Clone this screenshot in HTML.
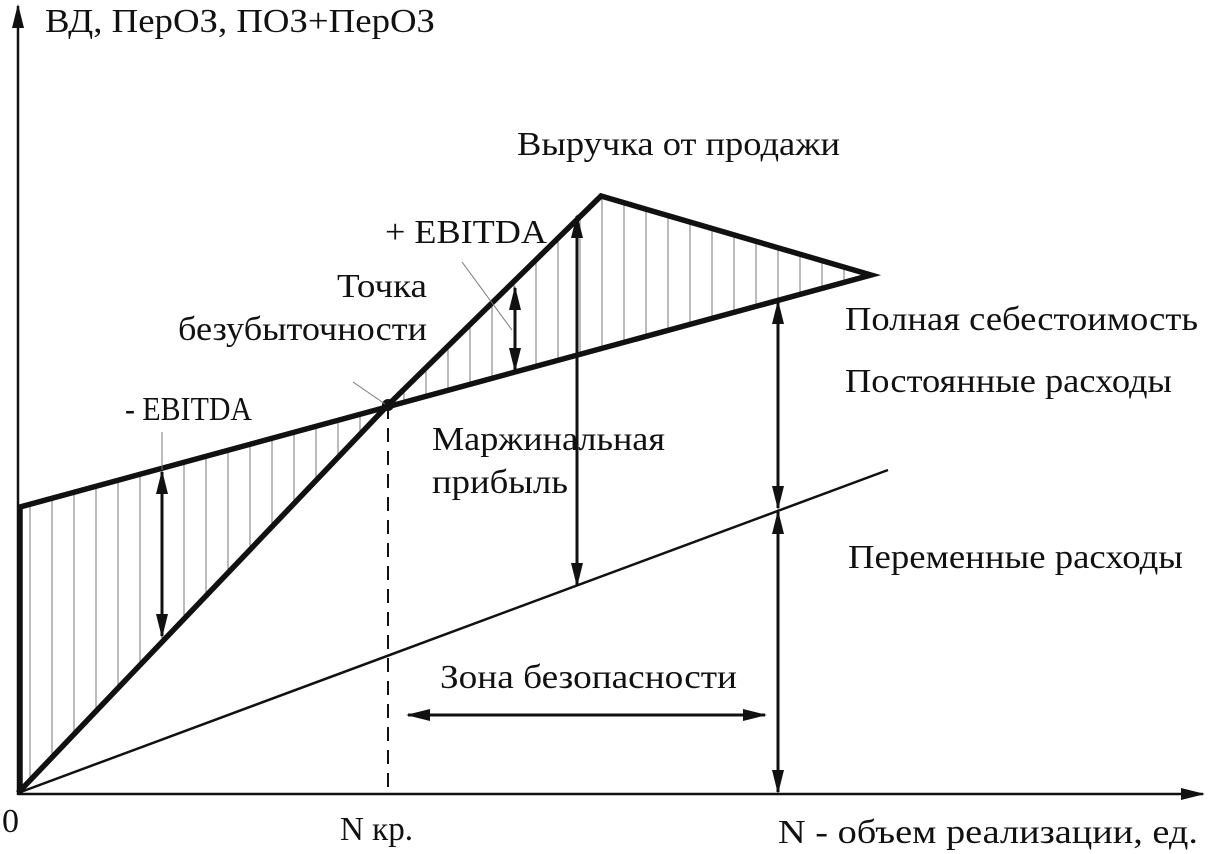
<!DOCTYPE html>
<html><head><meta charset="utf-8"><style>
html,body{margin:0;padding:0;background:#fff;}
svg{display:block;}
text{font-family:"Liberation Serif",serif;font-size:34px;fill:#111;}
</style></head><body>
<svg id="s" width="1209" height="854" viewBox="0 0 1209 854" xmlns="http://www.w3.org/2000/svg">
<defs>
<marker id="ah" markerWidth="24" markerHeight="12" refX="22" refY="6" viewBox="0 0 24 12" orient="auto-start-reverse" markerUnits="userSpaceOnUse">
<path d="M0,0 L24,6 L0,12 Z" fill="#111"/>
</marker>
</defs>
<g id="hatch" stroke="#777" stroke-width="1"></g>
<line x1="18" y1="795" x2="18" y2="6" stroke="#111" stroke-width="2.5" marker-end="url(#ah)"/>
<line x1="18" y1="794" x2="1203" y2="794" stroke="#111" stroke-width="2.5" marker-end="url(#ah)"/>
<line x1="388" y1="405" x2="388" y2="794" stroke="#111" stroke-width="2" stroke-dasharray="14,9"/>
<line x1="18" y1="793" x2="888" y2="470" stroke="#111" stroke-width="2.5"/>
<polyline points="20,793 20,507 871,275 601,196 388,405 18,793" fill="none" stroke="#111" stroke-width="5.5" stroke-linejoin="miter"/>
<circle cx="388" cy="405" r="6" fill="#111"/>
<line x1="162" y1="432" x2="162" y2="470" stroke="#777" stroke-width="1"/>
<line x1="462" y1="262" x2="512" y2="330" stroke="#777" stroke-width="1"/>
<line x1="353" y1="382" x2="385" y2="404" stroke="#777" stroke-width="1"/>
<g stroke="#111" stroke-width="3">
<line x1="162" y1="472" x2="162" y2="636" marker-start="url(#ah)" marker-end="url(#ah)"/>
<line x1="515" y1="288" x2="515" y2="370" marker-start="url(#ah)" marker-end="url(#ah)"/>
<line x1="577" y1="216" x2="577" y2="585" marker-start="url(#ah)" marker-end="url(#ah)"/>
<line x1="778" y1="302" x2="778" y2="508" marker-start="url(#ah)" marker-end="url(#ah)"/>
<line x1="778" y1="512" x2="778" y2="792" marker-start="url(#ah)" marker-end="url(#ah)"/>
<line x1="408" y1="715" x2="765" y2="715" marker-start="url(#ah)" marker-end="url(#ah)"/>
</g>
<g lengthAdjust="spacingAndGlyphs">
<text x="45" y="32" textLength="390" lengthAdjust="spacingAndGlyphs">ВД, ПерОЗ, ПОЗ+ПерОЗ</text>
<text x="517" y="155" textLength="323" lengthAdjust="spacingAndGlyphs">Выручка от продажи</text>
<text x="385" y="243" textLength="162" lengthAdjust="spacingAndGlyphs">+ EBITDA</text>
<text x="337" y="297" textLength="90" lengthAdjust="spacingAndGlyphs">Точка</text>
<text x="178" y="340" textLength="249" lengthAdjust="spacingAndGlyphs">безубыточности</text>
<text x="125" y="420" textLength="127" lengthAdjust="spacingAndGlyphs">- EBITDA</text>
<text x="845" y="330" textLength="353" lengthAdjust="spacingAndGlyphs">Полная себестоимость</text>
<text x="845" y="392" textLength="327" lengthAdjust="spacingAndGlyphs">Постоянные расходы</text>
<text x="432" y="450" textLength="233" lengthAdjust="spacingAndGlyphs">Маржинальная</text>
<text x="432" y="493" textLength="136" lengthAdjust="spacingAndGlyphs">прибыль</text>
<text x="848" y="568" textLength="335" lengthAdjust="spacingAndGlyphs">Переменные расходы</text>
<text x="440" y="688" textLength="297" lengthAdjust="spacingAndGlyphs">Зона безопасности</text>
<text x="2" y="832">0</text>
<text x="340" y="840" textLength="73" lengthAdjust="spacingAndGlyphs">N кр.</text>
<text x="778" y="843" textLength="420" lengthAdjust="spacingAndGlyphs">N - объем реализации, ед.</text>
</g>
</svg>
<script>
var g=document.getElementById('hatch'),ns='http://www.w3.org/2000/svg';
function cost(x){return 507-(x-20)*232/851;}
function rev(x){ if(x<=388) return 793-(x-18)*388/370; return 405-(x-388)*209/213;}
function top2(x){return 196+(x-601)*79/270;}
for(var x=30;x<868;x+=22){
 var y1,y2;
 if(x<388){y1=cost(x);y2=rev(x);}
 else if(x<=601){y1=rev(x);y2=cost(x);}
 else {y1=top2(x);y2=cost(x);}
 if(y2-y1<3) continue;
 var l=document.createElementNS(ns,'line');
 l.setAttribute('x1',x);l.setAttribute('x2',x);l.setAttribute('y1',y1);l.setAttribute('y2',y2);
 g.appendChild(l);
}
</script>
</body></html>
